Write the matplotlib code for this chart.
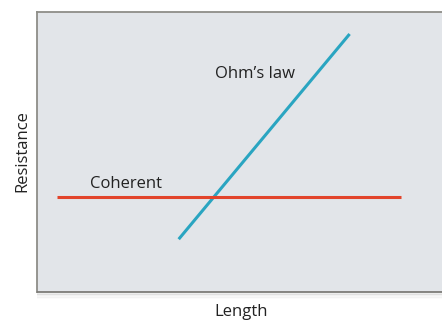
import matplotlib
matplotlib.use("Agg")
import matplotlib.pyplot as plt
from matplotlib.patches import Rectangle

# two conceptual lines (no real units)
ohm_x = [3.49, 7.70]
ohm_y = [1.32, 6.45]
coh_x = [0.50, 8.96]
coh_y = [2.38, 2.38]

labels = ["Ohm\u2019s law", "Coherent"]

plt.rcParams['font.family'] = ['Open Sans', 'DejaVu Sans']

W, H = 442, 321
fig = plt.figure(figsize=(W/100, H/100), dpi=100)

# soft drop shadow under the panel
for i, a in enumerate([0.10, 0.07, 0.05, 0.03, 0.015]):
    fig.patches.append(Rectangle((37/W, (H - 293 - i*1.6)/H), 405/W, 2/H,
                                 transform=fig.transFigure, color="black",
                                 alpha=a, lw=0, zorder=0))

ax = fig.add_axes([37/W, 1 - 292/H, 406/W, 280/H])
ax.set_facecolor("#e2e5e9")

ax.plot(ohm_x, ohm_y, color="#2aa5c1", lw=2.2, solid_capstyle="butt")
ax.plot(coh_x, coh_y, color="#e2442b", lw=2.2, solid_capstyle="butt")

# label positions in axes units
ax.text(5.37, (292 - 77.5)/40, labels[0], ha="center", va="baseline", fontsize=12, color="#222222")
ax.text(1.31, (292 - 188)/40, labels[1], ha="left", va="baseline", fontsize=12, color="#222222")

ax.set_xlim(0, 10)
ax.set_ylim(0, 7)
ax.set_xticks([])
ax.set_yticks([])
for s in ax.spines.values():
    s.set_color("#8e8d88")
    s.set_linewidth(1.3)

fig.text(26.5/W, 1 - 151/H, "Resistance", rotation=90, rotation_mode="anchor",
         ha="center", va="baseline", fontsize=12, color="#222222")
fig.text(241/W, 1 - 316.5/H, "Length", ha="center", va="baseline", fontsize=12, color="#222222")

fig.savefig("out.png", dpi=100, facecolor="white")
